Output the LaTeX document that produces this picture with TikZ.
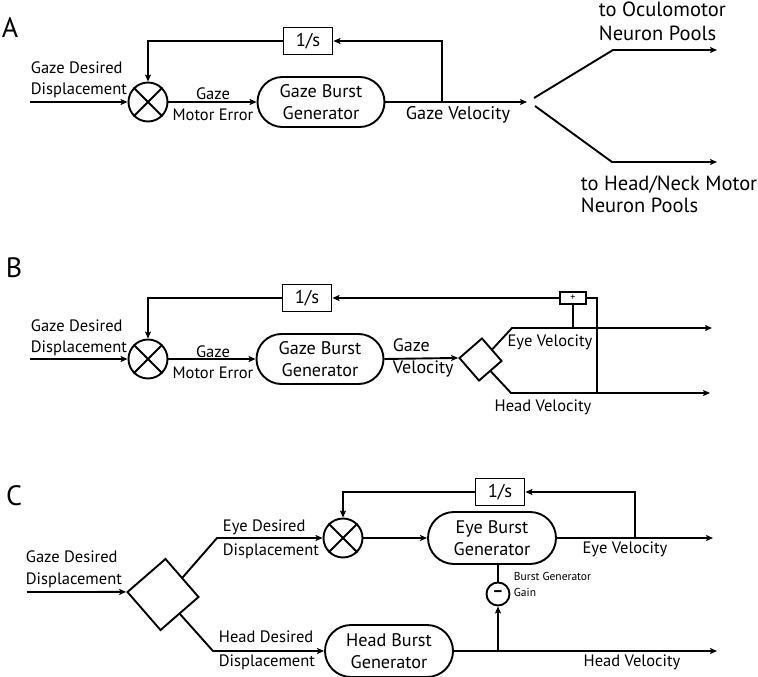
\documentclass[tikz,border=0pt]{standalone}
\usepackage{fontspec}
\setmainfont{PT Sans}
\usetikzlibrary{arrows.meta,shapes.misc,shapes.geometric}
\begin{document}
\begin{tikzpicture}[x=1pt,y=-1pt,line width=1.9pt,
  arr/.style={-{Stealth[length=7pt,width=6pt,inset=1.5pt]}},
  sm/.style={font=\fontsize{16.5}{21}\selectfont,inner sep=0pt},
  big/.style={font=\fontsize{20.5}{22}\selectfont,inner sep=0pt},
  panel/.style={font=\fontsize{28}{30}\selectfont,inner sep=0pt},
  sumj/.style={circle,draw,minimum size=39pt,inner sep=0pt},
  gen/.style={rounded rectangle,draw,minimum width=127pt,minimum height=50pt,inner sep=0pt,align=center,font=\fontsize{18.2}{22}\selectfont},
  intbox/.style={rectangle,draw,minimum width=49pt,minimum height=27pt,inner sep=0pt,font=\fontsize{18.5}{22}\selectfont},
  split/.style={diamond,draw,aspect=1,inner sep=0pt,rotate=-4}]
\useasboundingbox (0,0) rectangle (758,677);

% ---------------- Panel A ----------------
\node[panel] (lA) at (10,28) {A};
\node[sumj] (sA) at (148,102) {};
\draw (sA.north west) -- (sA.south east) (sA.north east) -- (sA.south west);
\node[gen] (gA) at (321,102) {Gaze Burst\\Generator};
\node[intbox] (iA) at (308,41) {1/s};
\coordinate (inA) at (30,102);
\node[sm,anchor=west,align=left] (tA1) at (30,80) {Gaze Desired\\Displacement};
\draw[arr] (inA) -- (sA.west);
\draw[arr] (sA.east) -- (gA.west);
\node[sm,align=center] (tA2) at (213,104) {Gaze\\Motor Error};
\coordinate (oA) at (527,102);
\draw[arr] (gA.east) -- (oA);
\coordinate (fA) at (442,102);
\draw[arr] (fA) |- (iA.east);
\draw[arr] (iA.west) -| (sA.north);
\node[inner sep=0pt,font=\fontsize{18.3}{21}\selectfont] (tA3) at (458,115) {Gaze Velocity};
\coordinate (a1) at (534,98);
\coordinate (a2) at (613,50);
\coordinate (a3) at (717,50);
\draw[arr] (a1) -- (a2) -- (a3);
\coordinate (b1) at (535,106);
\coordinate (b2) at (612,162);
\coordinate (b3) at (717,162);
\draw[arr] (b1) -- (b2) -- (b3);
\node[big,anchor=west,align=left,font=\fontsize{20.5}{24}\selectfont] (tA4) at (598,21) {to Oculomotor\\Neuron Pools};
\node[big,anchor=west,align=left] (tA5) at (580,194) {to Head/Neck Motor\\Neuron Pools};

% ---------------- Panel B ----------------
\node[panel] (lB) at (14,268) {B};
\node[sumj] (sB) at (148,359) {};
\draw (sB.north west) -- (sB.south east) (sB.north east) -- (sB.south west);
\node[gen] (gB) at (320,359) {Gaze Burst\\Generator};
\node[intbox] (iB) at (307,298) {1/s};
\coordinate (inB) at (30,359);
\node[sm,anchor=west,align=left] (tB1) at (30,338) {Gaze Desired\\Displacement};
\draw[arr] (inB) -- (sB.west);
\draw[arr] (sB.east) -- (gB.west);
\node[sm,align=center] (tB2) at (213,362) {Gaze\\Motor Error};
\node[split,minimum size=43pt] (dB) at (480.5,359.5) {};
\draw[arr] (gB.east) -- (dB.west);
\node[sm,anchor=west,align=left,font=\fontsize{18}{22}\selectfont] (tB3) at (392,358) {Gaze\\Velocity};
\coordinate (e1) at (512,328);
\coordinate (e2) at (712,328);
\draw[arr] (dB.north east) -- (e1) -- (e2);
\coordinate (h1) at (511,393);
\coordinate (h2) at (710,393);
\draw[arr] (dB.south east) -- (h1) -- (h2);
\node[sm] (tB4) at (550,342) {Eye Velocity};
\node[sm] (tB5) at (543,407) {Head Velocity};
\node[rectangle,draw,minimum width=26pt,minimum height=12pt,inner sep=0pt,line width=1.6pt,font=\fontsize{10}{10}\selectfont] (pB) at (573,298) {+};
\draw (pB.south) -- (pB.south |- e1);
\coordinate (jB) at (597,393);
\draw (pB.east) -| (jB);
\draw[arr] (pB.west) -- (iB.east);
\draw[arr] (iB.west) -| (sB.north);

% ---------------- Panel C ----------------
\node[panel] (lC) at (14,496) {C};
\node[split,minimum size=72pt] (dC) at (163,594.5) {};
\coordinate (inC) at (27,592);
\draw[arr] (inC) -- (dC.west);
\node[sm,anchor=west,align=left,font=\fontsize{16.5}{22}\selectfont] (tC1) at (25,569) {Gaze Desired\\Displacement};
\node[sumj] (sC) at (343,538) {};
\draw (sC.north west) -- (sC.south east) (sC.north east) -- (sC.south west);
\node[gen,minimum width=128pt,minimum height=52pt] (eC) at (492,538) {Eye Burst\\Generator};
\node[gen,minimum width=128pt,minimum height=52pt] (hC) at (389,651) {Head Burst\\Generator};
\node[intbox] (iC) at (500,492) {1/s};
\coordinate (u1) at (217,538);
\draw[arr] (dC.north east) -- (u1) -- (sC.west);
\coordinate (w1) at (213,651);
\draw[arr] (dC.south east) -- (w1) -- (hC.west);
\node[sm,anchor=west,align=left,font=\fontsize{16.5}{24}\selectfont] (tC2) at (222,539) {Eye Desired\\Displacement};
\node[sm,anchor=west,align=left,font=\fontsize{16.5}{24}\selectfont] (tC3) at (218,650) {Head Desired\\Displacement};
\draw[arr] (sC.east) -- (eC.west);
\coordinate (oC) at (713,538);
\draw[arr] (eC.east) -- (oC);
\coordinate (fC) at (635,538);
\draw[arr] (fC) |- (iC.east);
\draw[arr] (iC.west) -| (sC.north);
\node[sm] (tC4) at (625,549) {Eye Velocity};
\node[circle,draw,minimum size=23pt,inner sep=0pt,font=\fontsize{17}{17}\selectfont\bfseries] (mC) at (498,594) {\raisebox{-1pt}{–}};
\draw (mC.north) -- (mC.north |- eC.south);
\coordinate (oH) at (717,651);
\draw[arr] (hC.east) -- (oH);
\coordinate (jC) at (498,651);
\draw[arr] (jC) -- (mC.south);
\node[anchor=west,align=left,inner sep=0pt,font=\fontsize{11.5}{16}\selectfont] (tC5) at (513,584) {Burst Generator\\Gain};
\node[sm] (tC6) at (632,662) {Head Velocity};
\end{tikzpicture}
\end{document}
